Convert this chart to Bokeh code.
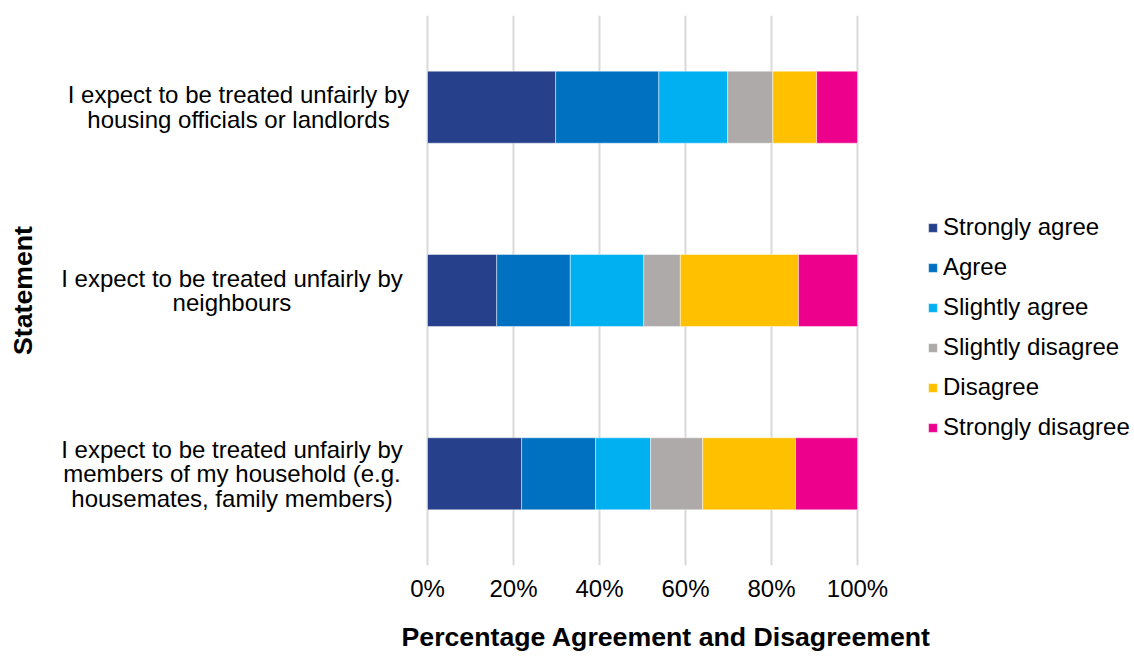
from bokeh.plotting import figure
from bokeh.models import (FactorRange, Range1d, ColumnDataSource, Legend, LegendItem,
                          LabelSet, FixedTicker, PrintfTickFormatter, Title)
from bokeh.core.properties import value
from bokeh.embed import file_html
from bokeh.resources import INLINE

# ---- data (percent of respondents) ----
statements = [
    "I expect to be treated unfairly by\nhousing officials or landlords",
    "I expect to be treated unfairly by\nneighbours",
    "I expect to be treated unfairly by\nmembers of my household (e.g.\nhousemates, family members)",
]
responses = ["Strongly agree", "Agree", "Slightly agree",
             "Slightly disagree", "Disagree", "Strongly disagree"]
strongly_agree    = [29.8, 16.1, 21.9]
agree             = [24.0, 17.1, 17.2]
slightly_agree    = [16.0, 17.1, 12.8]
slightly_disagree = [10.5,  8.5, 12.1]
disagree          = [10.2, 27.5, 21.6]
strongly_disagree = [ 9.5, 13.7, 14.4]
x_ticks = [0, 20, 40, 60, 80, 100]

colors = ["#27408B", "#0070C0", "#00B0F0", "#AEAAAA", "#FFC000", "#EC008C"]
FONT = "Liberation Sans"

# layout (pixels)
LEFT = 42            # left border holding the vertical title
FRAME_W = 1092
FRAME_H = 550
ZERO_PX = 385        # 0% position inside the frame
PX_PER_PCT = 4.3
LINE_H = 24.5
LABEL_DX = [-189, -195.5, -195.5]   # centre of each wrapped label relative to 0%

keys = ["sa", "a", "sla", "sld", "d", "sd"]
source = ColumnDataSource(dict(
    statement=statements,
    sa=strongly_agree, a=agree, sla=slightly_agree,
    sld=slightly_disagree, d=disagree, sd=strongly_disagree,
))

# one row per text line of each category label (centred lines)
lab_y, lab_text, lab_yoff, lab_xoff = [], [], [], []
for s, dx in zip(statements, LABEL_DX):
    lines = s.split("\n")
    n = len(lines)
    for i, ln in enumerate(lines):
        lab_y.append(s)
        lab_text.append(ln)
        lab_yoff.append(((n - 1) / 2 - i) * LINE_H)
        lab_xoff.append(dx)
label_source = ColumnDataSource(dict(y=lab_y, text=lab_text, yoff=lab_yoff, xoff=lab_xoff))

p = figure(
    frame_width=FRAME_W, frame_height=FRAME_H,
    y_range=FactorRange(factors=list(reversed(statements))),
    x_range=Range1d(-ZERO_PX / PX_PER_PCT, (FRAME_W - ZERO_PX) / PX_PER_PCT),
    output_backend="svg", toolbar_location=None,
    min_border_left=LEFT, min_border_top=15, min_border_bottom=94, min_border_right=0,
)
p.outline_line_color = None
p.background_fill_color = "white"

renderers = p.hbar_stack(keys, y="statement", height=0.393, color=colors,
                         line_color="white", line_alpha=0.45, line_width=1,
                         source=source)

# grid
p.ygrid.grid_line_color = None
p.xgrid.grid_line_color = "#D9D9D9"
p.xgrid.grid_line_width = 2
p.xgrid.ticker = FixedTicker(ticks=x_ticks)

# x axis
p.xaxis.ticker = FixedTicker(ticks=x_ticks)
p.xaxis.formatter = PrintfTickFormatter(format="%d%%")
p.xaxis.axis_line_color = None
p.xaxis.major_tick_line_color = None
p.xaxis.minor_tick_line_color = None
p.xaxis.major_label_text_font = FONT
p.xaxis.major_label_text_font_size = "24px"
p.xaxis.major_label_text_color = "black"
p.xaxis.major_label_standoff = 3

p.yaxis.visible = False

# axis titles
p.add_layout(Title(text="Percentage Agreement and Disagreement", align="left",
                   offset=359, standoff=30, text_font=FONT, text_font_size="26.7px",
                   text_font_style="bold", text_color="black"), "below")
p.add_layout(Title(text="Statement", align="center", standoff=10,
                   text_font=FONT, text_font_size="26.7px",
                   text_font_style="bold", text_color="black"), "left")

# category labels, centred, to the left of the bars
labels = LabelSet(x=0, y="y", text="text", source=label_source,
                  x_offset="xoff", y_offset="yoff",
                  text_align="center", text_baseline="middle",
                  text_font=value(FONT), text_font_size=value("24px"),
                  text_color="black")
p.add_layout(labels)

legend = Legend(
    items=[LegendItem(label=lab, renderers=[r]) for lab, r in zip(responses, renderers)],
    location=(885, 124), orientation="vertical",
    glyph_width=11, glyph_height=11, label_standoff=5,
    label_text_font=FONT, label_text_font_size="24px", label_text_color="black",
    label_height=27, spacing=12, padding=0, margin=0,
    border_line_color=None, background_fill_alpha=0,
)
p.add_layout(legend, "center")

open("out.html", "w").write(file_html(p, INLINE))
